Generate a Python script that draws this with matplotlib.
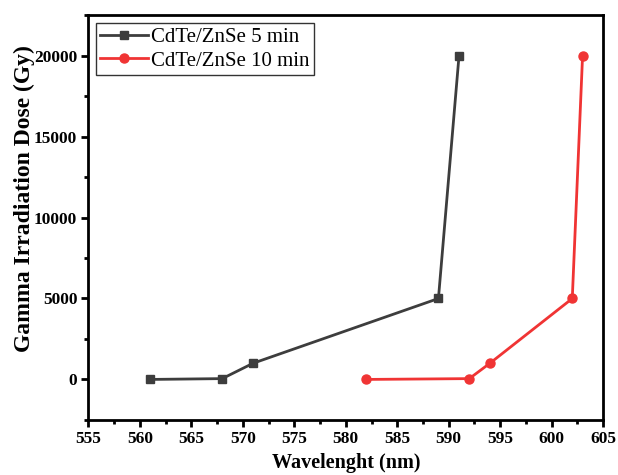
import matplotlib
matplotlib.use("Agg")
import matplotlib.pyplot as plt
from matplotlib.ticker import MultipleLocator

x5 = [561, 568, 571, 589, 591]
y5 = [0, 50, 1000, 5000, 20000]
x10 = [582, 592, 594, 602, 603]
y10 = [0, 50, 1000, 5000, 20000]
labels = ["CdTe/ZnSe 5 min", "CdTe/ZnSe 10 min"]

plt.rcParams['font.family'] = ['Liberation Serif', 'DejaVu Serif']

fig = plt.figure(figsize=(6.18, 4.75), dpi=100)
ax = fig.add_axes([0.143, 0.116, 0.833, 0.852])

ax.plot(x5, y5, color='#3d3d3d', lw=2, marker='s', ms=6, label=labels[0])
ax.plot(x10, y10, color='#f03434', lw=2, marker='o', ms=6.5, label=labels[1])

ax.set_xlim(555, 605)
ax.set_ylim(-2500, 22500)
ax.xaxis.set_major_locator(MultipleLocator(5))
ax.xaxis.set_minor_locator(MultipleLocator(2.5))
ax.yaxis.set_major_locator(MultipleLocator(5000))
ax.yaxis.set_minor_locator(MultipleLocator(2500))
ax.tick_params(which='both', direction='out', width=2, labelsize=12.5, pad=3)
ax.tick_params(which='major', length=5)
ax.tick_params(which='minor', length=3)
for lab in ax.get_xticklabels() + ax.get_yticklabels():
    lab.set_fontweight('bold')
for s in ax.spines.values():
    s.set_linewidth(2)

ax.set_xlabel('Wavelenght (nm)', fontsize=14.5, fontweight='bold', labelpad=4)
ax.set_ylabel('Gamma Irradiation Dose (Gy)', fontsize=17, fontweight='bold')
ax.yaxis.set_label_coords(-0.104, 0.548)

leg = ax.legend(loc='upper left', fontsize=15, frameon=True, fancybox=False,
                edgecolor='black', borderaxespad=0.38, handlelength=2.3,
                handletextpad=0.15, labelspacing=0.2, borderpad=0.2)
leg.get_frame().set_linewidth(1)

fig.savefig('out.png', dpi=100)
